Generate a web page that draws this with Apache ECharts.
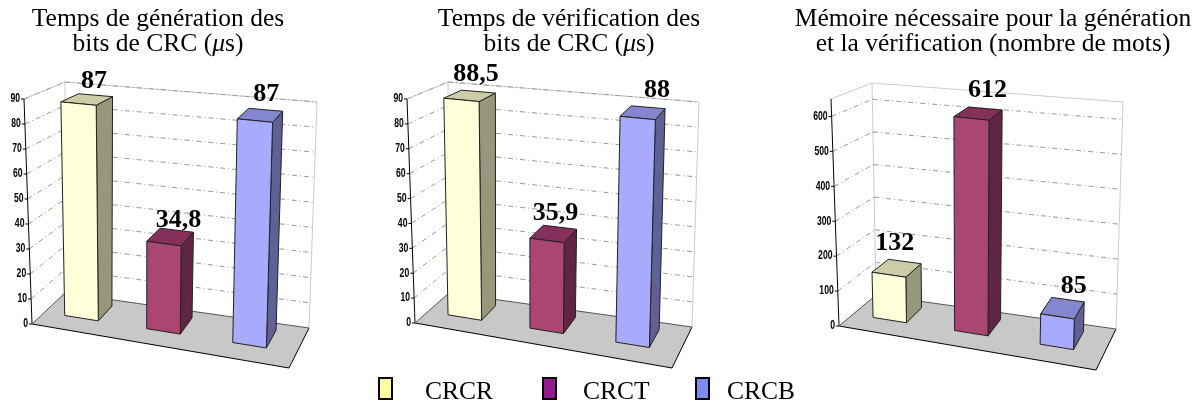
<!DOCTYPE html>
<html>
<head>
<meta charset="utf-8">
<title>CRC</title>
<script src="https://cdn.jsdelivr.net/npm/echarts@6/dist/echarts.min.js"></script>
<style>
html, body { margin: 0; padding: 0; background: #fff; }
#main { width: 1195px; height: 405px; }
</style>
</head>
<body>
<div id="main"></div>
<script>
var categories = ['CRCR', 'CRCT', 'CRCB'];

var genValues = [87, 34.8, 87];
var verifValues = [88.5, 35.9, 88];
var memValues = [132, 612, 85];

var timeTicks = [0, 10, 20, 30, 40, 50, 60, 70, 80, 90];
var memTicks = [0, 100, 200, 300, 400, 500, 600];

var serif = '"Liberation Serif", "Times New Roman", serif';
var sans = '"Liberation Sans", Arial, sans-serif';

// couleurs: face avant, cote, dessus, puis legende
var faceColors = ['#ffffd9', '#a94672', '#a8aaff'];
var sideColors = ['#97977c', '#612544', '#5f6096'];
var topColors = ['#cccca8', '#872f5b', '#8487ce'];
var legendColors = ['#ffffa0', '#921a8e', '#7c8def'];

// coins de la boite 3D de chaque panneau (A/B sol avant, C/D sol arriere, G/H haut avant, E/F haut arriere)
var panels = [
	{
		title : 'Temps de génération des\nbits de CRC ({mu|μ}s)', cx : 153,
		values : genValues, ticks : timeTicks, max : 90,
		A : [32, 324], B : [289, 368], C : [65, 293], D : [309, 328],
		G : [24, 99], H : [297, 127], E : [65, 82], F : [317, 102],
		labelShift : [[7, 6], [6, 7], [6, 3]]
	},
	{
		title : 'Temps de vérification des\nbits de CRC ({mu|μ}s)', cx : 564,
		values : verifValues, ticks : timeTicks, max : 90,
		A : [415, 323], B : [672, 368], C : [449, 293], D : [692, 327],
		G : [407, 99], H : [680, 127], E : [448, 82], F : [699, 102],
		labelShift : [[6, 3], [0, 3], [14, 2]]
	},
	{
		title : 'Mémoire nécessaire pour la génération\net la vérification (nombre de mots)', cx : 988,
		values : memValues, ticks : memTicks, max : 650,
		A : [839, 326], B : [1096, 370], C : [876, 295], D : [1116, 329],
		G : [831, 99], H : [1104, 129], E : [872, 83], F : [1123, 102],
		labelShift : [[-2, -1], [7, 1], [11, 2]]
	}
];

// decalage des barres dans la largeur
var barShift = [-0.02, -0.028, -0.02];

function mix(p, q, t) {
	return [p[0] + (q[0] - p[0]) * t, p[1] + (q[1] - p[1]) * t];
}

// s: largeur, h: hauteur, d: profondeur, tous entre 0 et 1
function project(panel, s, h, d) {
	var bottom = mix(mix(panel.A, panel.B, s), mix(panel.C, panel.D, s), d);
	var top = mix(mix(panel.G, panel.H, s), mix(panel.E, panel.F, s), d);
	return mix(bottom, top, h);
}

function poly(points, fill, stroke) {
	return {
		type : 'polygon',
		shape : { points : points },
		style : { fill : fill, stroke : stroke, lineWidth : 1 }
	};
}

function segment(p, q, stroke, width, dash) {
	return {
		type : 'line',
		shape : { x1 : p[0], y1 : p[1], x2 : q[0], y2 : q[1] },
		style : { stroke : stroke, lineWidth : width, lineDash : dash || null }
	};
}

function renderFrame(panel) {
	return function(params, api) {
		var cs = params.coordSys;
		var children = [];
		// sol
		children.push(poly([ project(panel, 0, 0, 0), project(panel, 1, 0, 0), project(panel, 1, 0, 1), project(panel, 0, 0, 1) ], '#c8c8c8', null));
		// murs
		children.push(segment(project(panel, 0, 1, 0), project(panel, 0, 1, 1), '#ccc', 1));
		children.push(segment(project(panel, 0, 1, 1), project(panel, 1, 1, 1), '#ccc', 1));
		children.push(segment(project(panel, 0, 1, 1), project(panel, 0, 0, 1), '#ccc', 1));
		children.push(segment(project(panel, 1, 1, 1), project(panel, 1, 0, 1), '#ccc', 1));
		// graduations
		for (var i = 0; i < panel.ticks.length; i++) {
			var y = api.coord([0, panel.ticks[i]])[1];
			var h = (cs.y + cs.height - y) / cs.height;
			var front = project(panel, 0, h, 0);
			if (panel.ticks[i] > 0) {
				children.push(segment(front, project(panel, 0, h, 1), '#999', 1, [5, 3, 1, 3]));
				children.push(segment(project(panel, 0, h, 1), project(panel, 1, h, 1), '#999', 1, [5, 3, 1, 3]));
			}
			children.push(segment(front, [front[0] - 3, front[1]], '#000', 1));
			children.push({
				type : 'text',
				x : front[0] - 4,
				y : front[1],
				scaleX : 0.72,
				style : {
					x : 0, y : 0, text : String(panel.ticks[i]),
					fontFamily : sans, fontWeight : 'bold', fontSize : 12, fill : '#000',
					textAlign : 'right', textVerticalAlign : 'middle'
				}
			});
		}
		// axe et bords du sol
		children.push(segment(project(panel, 0, 1, 0), project(panel, 0, 0, 0), '#000', 1));
		children.push(segment(project(panel, 0, 0, 0), project(panel, 1, 0, 0), '#000', 1));
		children.push(segment(project(panel, 1, 0, 0), project(panel, 1, 0, 1), '#000', 1));
		children.push(segment(project(panel, 0, 0, 0), project(panel, 0, 0, 1), '#555', 1));
		children.push(segment(project(panel, 0, 0, 1), project(panel, 1, 0, 1), '#555', 1));
		return { type : 'group', children : children };
	};
}

function renderBar(panel, index) {
	return function(params, api) {
		var cs = params.coordSys;
		var base = api.coord([api.value(0), 0]);
		var tip = api.coord([api.value(0), api.value(1)]);
		var w = api.size([1, 0])[0] * 0.2 / cs.width;
		var center = (base[0] - cs.x) / cs.width;
		var mid = center + barShift[index];
		var s0 = mid - w, s1 = mid + w;
		var h = (cs.y + cs.height - tip[1]) / cs.height;
		var d0 = 0.38, d1 = 0.83;
		var stroke = '#222';
		var label = String(api.value(1)).replace('.', ',');
		var anchor = project(panel, center - 0.02, h, (d0 + d1) / 2);
		var shift = panel.labelShift[index];
		return {
			type : 'group',
			children : [
				poly([ project(panel, s1, 0, d0), project(panel, s1, 0, d1), project(panel, s1, h, d1), project(panel, s1, h, d0) ], sideColors[index], stroke),
				poly([ project(panel, s0, h, d0), project(panel, s1, h, d0), project(panel, s1, h, d1), project(panel, s0, h, d1) ], topColors[index], stroke),
				poly([ project(panel, s0, 0, d0), project(panel, s1, 0, d0), project(panel, s1, h, d0), project(panel, s0, h, d0) ], faceColors[index], stroke),
				{
					type : 'text',
					style : {
						x : anchor[0] + shift[0], y : anchor[1] - 24 + shift[1], text : label,
						fontFamily : serif, fontWeight : 'bold', fontSize : 26, fill : '#000',
						textAlign : 'center', textVerticalAlign : 'middle'
					}
				}
			]
		};
	};
}

// une legende par methode, les ecarts ne sont pas reguliers
var legendLeft = [373, 537, 690];
var legendTextGap = [28, 22, 13];

var option = {
	animation : false,
	backgroundColor : '#fff',
	title : [],
	grid : [],
	xAxis : [],
	yAxis : [],
	series : [],
	legend : categories.map(function(name, i) {
		return {
			left : legendLeft[i],
			top : 372,
			icon : 'rect',
			itemWidth : 13,
			itemHeight : 21,
			formatter : '{t|{name}}',
			textStyle : {
				rich : { t : { fontFamily : serif, fontSize : 25.5, color : '#000', padding : [8, 0, 0, legendTextGap[i]] } }
			},
			data : [{ name : name, itemStyle : { color : legendColors[i], borderColor : '#000', borderWidth : 2 } }]
		};
	})
};

panels.forEach(function(panel, p) {
	option.title.push({
		text : panel.title,
		left : panel.cx,
		top : 2,
		textAlign : 'center',
		textStyle : {
			fontFamily : serif, fontWeight : 'normal', fontSize : 25.5, lineHeight : 25, color : '#000',
			rich : { mu : { fontFamily : serif, fontStyle : 'italic', fontSize : 25.5, lineHeight : 25, color : '#000' } }
		}
	});
	option.grid.push({ left : panel.A[0], top : panel.G[1], width : panel.B[0] - panel.A[0], height : panel.A[1] - panel.G[1] });
	option.xAxis.push({ type : 'category', gridIndex : p, data : categories, show : false });
	option.yAxis.push({ type : 'value', gridIndex : p, min : 0, max : panel.max, show : false });
	option.series.push({
		type : 'custom', name : 'cadre', xAxisIndex : p, yAxisIndex : p, silent : true,
		renderItem : renderFrame(panel), data : [[0, 0]]
	});
	categories.forEach(function(name, i) {
		option.series.push({
			type : 'custom', name : name, xAxisIndex : p, yAxisIndex : p, silent : true,
			renderItem : renderBar(panel, i), data : [[i, panel.values[i]]]
		});
	});
});

var myChart = echarts.init(document.getElementById('main'));
myChart.setOption(option);
</script>
</body>
</html>
